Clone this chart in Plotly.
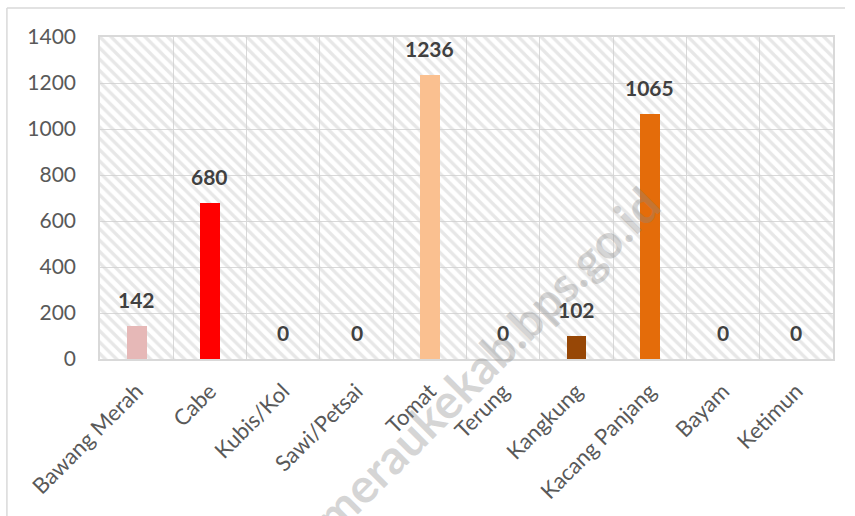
import plotly.graph_objects as go

categories = ["Bawang Merah", "Cabe", "Kubis/Kol", "Sawi/Petsai", "Tomat",
              "Terung", "Kangkung", "Kacang Panjang", "Bayam", "Ketimun"]
values = [142, 680, 0, 0, 1236, 0, 102, 1065, 0, 0]
bar_colors = ["#E6B8B7", "#FF0000", "#E6B8B7", "#E6B8B7", "#FAC090",
              "#E6B8B7", "#974706", "#E46C0A", "#E6B8B7", "#E6B8B7"]
y_ticks = [0, 200, 400, 600, 800, 1000, 1200, 1400]
Y_MAX = 1400
watermark = "meraukekab.bps.go.id"

FONT = "Lato"
GRID = "#D9D9D9"

fig = go.Figure()

# hatched plot background
fig.add_trace(go.Bar(
    x=categories, y=[Y_MAX] * len(categories), width=1.0,
    marker=dict(color="rgba(0,0,0,0)", line=dict(width=0),
                pattern=dict(shape="\\", fgcolor="#D0D0D0", bgcolor="rgba(0,0,0,0)",
                             size=8, solidity=0.42)),
    hoverinfo="skip", showlegend=False,
))

fig.add_trace(go.Bar(
    x=categories, y=values, width=0.27,
    marker=dict(color=bar_colors, line=dict(width=0)),
    hoverinfo="skip", showlegend=False,
))

annotations = []
for c, v in zip(categories, values):
    annotations.append(dict(
        x=c, y=v, xref="x", yref="y", text=f"<b>{v}</b>", showarrow=False,
        yanchor="bottom", yshift=12,
        font=dict(family=FONT, size=21, color="#404040"),
    ))

annotations.append(dict(
    x=0.527, y=0.0, xref="paper", yref="paper", text=f"<b>{watermark}</b>",
    showarrow=False, textangle=-45, xanchor="center", yanchor="middle",
    font=dict(family=FONT, size=48, color="rgba(135,135,135,0.34)"),
))

shapes = [
    dict(type="line", xref="paper", yref="paper", x0=-0.127, x1=1.0164, y0=1.09, y1=1.09,
         line=dict(color=GRID, width=1.5)),
    dict(type="line", xref="paper", yref="paper", x0=-0.127, x1=-0.127, y0=1.09, y1=-0.6,
         line=dict(color=GRID, width=1.5)),
]

fig.update_layout(
    width=855, height=516,
    margin=dict(l=100, r=22, t=37, b=157, autoexpand=False),
    paper_bgcolor="white", plot_bgcolor="white",
    barmode="overlay",
    bargap=0,
    font=dict(family=FONT, color="#595959", size=21),
    annotations=annotations,
    shapes=shapes,
    showlegend=False,
)

fig.update_xaxes(
    type="category", tickson="boundaries", showgrid=True, gridcolor=GRID, gridwidth=1.3,
    showline=True, linecolor=GRID, linewidth=1.5, mirror=True,
    tickangle=-45, ticks="", ticklabelstandoff=9,
    tickfont=dict(family=FONT, size=22, color="#595959"),
    range=[-0.5, len(categories) - 0.5], fixedrange=True, automargin=False,
)
fig.update_yaxes(
    range=[0, Y_MAX], tickvals=y_ticks, showgrid=True, gridcolor=GRID, gridwidth=1.3,
    showline=True, linecolor=GRID, linewidth=1.5, mirror=True, zeroline=False,
    ticks="", ticklabelstandoff=18, tickfont=dict(family=FONT, size=21, color="#595959"),
    fixedrange=True, automargin=False,
)

fig.write_html("out.html", config={"displayModeBar": False},
               post_script="document.body.style.margin='0px';document.body.style.overflow='hidden';")
